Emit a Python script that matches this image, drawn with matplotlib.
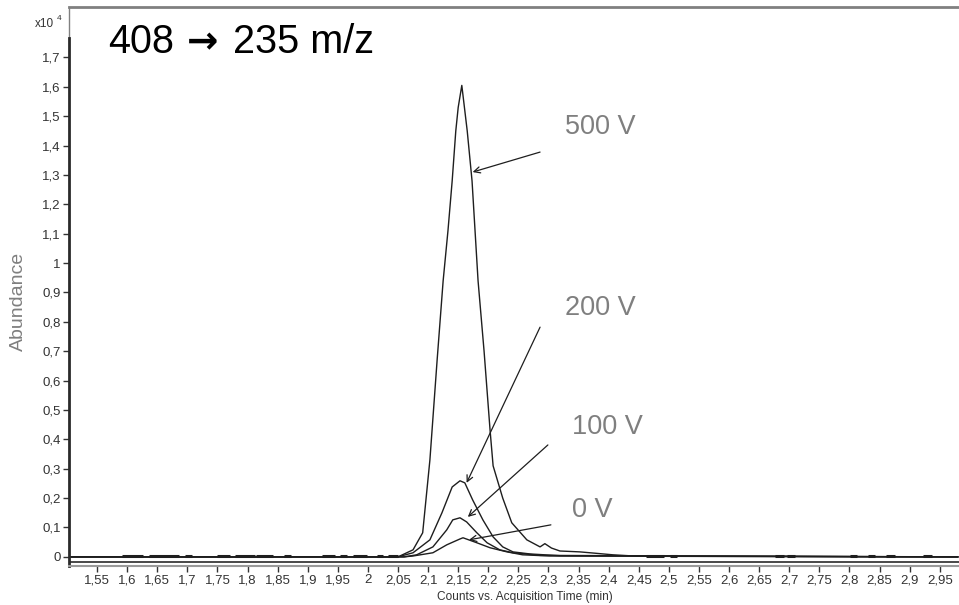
import numpy as np
import matplotlib
matplotlib.use("Agg")
import matplotlib.pyplot as plt

plt.rcParams['font.family'] = ['Liberation Sans', 'DejaVu Sans']

# chromatogram traces, 408 -> 235 m/z, abundance in units of 1e4 counts
t_500 = [1.50, 2.05, 2.075, 2.091, 2.103, 2.115, 2.125, 2.133, 2.140, 2.146, 2.150, 2.156,
         2.165, 2.173, 2.178, 2.183, 2.193, 2.203, 2.208, 2.224, 2.239, 2.264, 2.286,
         2.294, 2.305, 2.319, 2.352, 2.38, 2.407, 2.45, 2.98]
a_500 = [0, 0, 0.024, 0.082, 0.33, 0.67, 0.94, 1.11, 1.28, 1.45, 1.53, 1.605,
         1.45, 1.28, 1.11, 0.94, 0.70, 0.43, 0.31, 0.20, 0.116, 0.058, 0.034,
         0.045, 0.03, 0.02, 0.017, 0.012, 0.007, 0.002, 0]

t_200 = [1.50, 2.05, 2.075, 2.103, 2.123, 2.140, 2.153, 2.161, 2.174, 2.191, 2.208,
         2.224, 2.241, 2.269, 2.319, 2.98]
a_200 = [0, 0, 0.014, 0.058, 0.150, 0.238, 0.259, 0.252, 0.194, 0.126, 0.068,
         0.034, 0.017, 0.010, 0.004, 0]

t_100 = [1.50, 2.06, 2.081, 2.108, 2.131, 2.141, 2.153, 2.164, 2.181, 2.198, 2.219,
         2.241, 2.286, 2.98]
a_100 = [0, 0, 0.007, 0.034, 0.092, 0.126, 0.133, 0.119, 0.082, 0.048, 0.024,
         0.014, 0.005, 0]

t_0 = [1.50, 2.06, 2.075, 2.108, 2.131, 2.153, 2.158, 2.181, 2.203, 2.231, 2.257,
       2.302, 2.98]
a_0 = [0, 0, 0.003, 0.014, 0.041, 0.061, 0.065, 0.048, 0.031, 0.017, 0.007,
       0.003, 0]

# short stretches of baseline noise
noise_start = [1.591, 1.636, 1.696, 1.749, 1.779, 1.814, 1.860, 1.924, 1.953, 1.975,
               2.015, 2.033, 2.462, 2.502, 2.676, 2.696, 2.801, 2.831, 2.860, 2.922]
noise_end = [1.626, 1.686, 1.708, 1.771, 1.812, 1.842, 1.872, 1.945, 1.965, 1.998,
             2.025, 2.050, 2.492, 2.513, 2.691, 2.709, 2.812, 2.842, 2.875, 2.937]

labels = ["500 V", "200 V", "100 V", "0 V"]
label_pos = [(2.327, 1.463), (2.327, 0.847), (2.339, 0.442), (2.339, 0.160)]
arrow_tail = [(2.286, 1.378), (2.286, 0.782), (2.299, 0.381), (2.304, 0.109)]
arrow_head = [(2.174, 1.310), (2.164, 0.252), (2.166, 0.136), (2.168, 0.058)]

x_ticks = np.round(np.arange(1.55, 2.96, 0.05), 2)
y_ticks = np.round(np.arange(0, 1.71, 0.1), 1)

def comma(v):
    s = ('%g' % v)
    return s.replace('.', ',')

fig = plt.figure(figsize=(9.59, 6.05), dpi=100)
ax = fig.add_axes([0.072, 0.0645, 0.928, 0.9235])

line_col = '#1e1e1e'
for t, a in [(t_500, a_500), (t_200, a_200), (t_100, a_100), (t_0, a_0)]:
    ax.plot(t, a, color=line_col, lw=1.0)
ax.hlines([0.004] * len(noise_start), noise_start, noise_end, color=line_col, lw=2.2)

ax.set_xlim(1.5035, 2.982)
ax.set_ylim(-0.031, 1.871)

ax.set_xticks(x_ticks)
ax.set_xticklabels([comma(v) for v in x_ticks])
ax.set_yticks(y_ticks)
ax.set_yticklabels([comma(v) for v in y_ticks])
ax.tick_params(axis='both', direction='out', length=4, width=1, color='#333333',
               labelsize=9.5, labelcolor='#333333', pad=2)

# frame: gray top/left, darker left axis and doubled bottom rule
ax.spines['right'].set_visible(False)
ax.spines['top'].set_color('#808080')
ax.spines['top'].set_linewidth(2)
ax.spines['left'].set_color('#2a2a2a')
ax.spines['left'].set_linewidth(2)
ax.spines['left'].set_bounds(-0.031, 1.765)
ax.plot([1.5035, 1.5035], [1.765, 1.871], color='#808080', lw=1, clip_on=False)
ax.spines['bottom'].set_color('#9a9a9a')
ax.spines['bottom'].set_linewidth(1.5)
ax.axhline(-0.017, color='#2a2a2a', lw=1.2)

# axis multiplier
ax.text(-0.038, 0.981, 'x10', transform=ax.transAxes, fontsize=8.5, color='#333333',
        ha='left', va='top')
ax.text(-0.0135, 0.987, '4', transform=ax.transAxes, fontsize=6, color='#333333',
        ha='left', va='top')

# transition title, arrow drawn in DejaVu for a heavier glyph
ax.text(1.568, 1.714, '408', fontsize=28.5, color='black', va='baseline')
ax.text(1.6985, 1.714, '\u2192', fontsize=27, color='black', va='baseline',
        family=['DejaVu Sans'], weight='bold')
ax.text(1.7766, 1.714, '235 m/z', fontsize=28.5, color='black', va='baseline')

for lab, pos, tail, head in zip(labels, label_pos, arrow_tail, arrow_head):
    ax.text(pos[0], pos[1], lab, fontsize=19.5, color='#7f7f7f',
            va='center', ha='left')
    ax.annotate('', xy=head, xytext=tail,
                arrowprops=dict(arrowstyle='->', color=line_col, lw=0.9,
                                shrinkA=0, shrinkB=0, mutation_scale=11))

ax.set_ylabel('Abundance', fontsize=14, color='#7f7f7f')
ax.yaxis.set_label_coords(-0.047, 0.473)
ax.set_xlabel('Counts vs. Acquisition Time (min)', fontsize=8.6, color='#333333')
ax.xaxis.set_label_coords(0.512, -0.045)

fig.savefig('out.png', dpi=100)
